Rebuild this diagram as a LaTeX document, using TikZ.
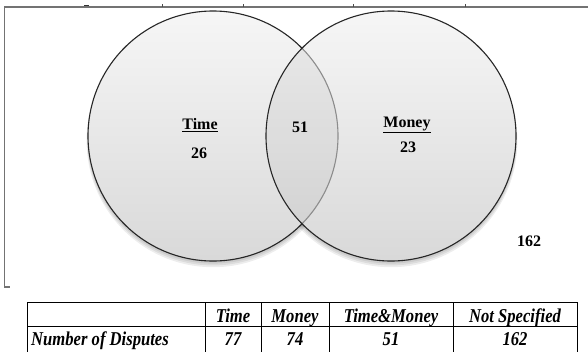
\documentclass[tikz,border=0pt]{standalone}
\usepackage{fontspec}
\setmainfont{Liberation Serif}
\usetikzlibrary{shadows.blur}
\begin{document}
\begin{tikzpicture}[x=1pt,y=-1pt,
  frame/.style={draw=black!55,line width=1.1pt},
  venn/.style={draw=black!85,line width=1.1pt},
  vshade/.style={top color=gray!7, bottom color=gray!30},
  vshadow/.style={fill=black, opacity=0.07},
  lbl/.style={font=\fontsize{16}{19}\selectfont\bfseries, inner sep=0pt},
  cell/.style={font=\fontsize{17.5}{20}\selectfont\bfseries\itshape, inner sep=0pt, anchor=base},
  tbl/.style={draw=black,line width=0.9pt}]
\useasboundingbox (0,0) rectangle (588,351);
\fill[white] (0,0) rectangle (588,351);
% frame
\coordinate (ftl) at (4.5,7);
\coordinate (ftr) at (588,7);
\coordinate (fbl) at (4.5,287);
\coordinate (fbr) at (10,287);
\draw[frame] (ftr) -- (ftl) -- (fbl) -- (fbr);
\foreach \t in {162,243,353,465}{\draw[black!70,line width=0.8pt] (\t,4) -- (\t,6.5);}
\draw[black!80,line width=1pt] (84,5.5) -- (89,5.5);
% circles
\coordinate (L) at (213,136);
\coordinate (R) at (391,136);
\foreach \s in {1,2,3,4}{
  \fill[vshadow] ($(L)+(0,\s*1.2)$) circle[radius=124+\s*0.6];
  \fill[vshadow] ($(R)+(0,\s*1.2)$) circle[radius=124+\s*0.6];
}
\path[vshade] (L) circle[radius=125];
\draw[venn] (L) circle[radius=125];
\path[vshade] (R) circle[radius=125];
\begin{scope}
  \clip (R) circle[radius=125];
  \fill[black, opacity=0.045] (L) circle[radius=125];
  \draw[venn, draw=black!45] (L) circle[radius=125];
\end{scope}
\draw[venn] (R) circle[radius=125];
% labels
\node[lbl] (time) at (200,125) {\underline{Time}};
\node[lbl] (n26) at (199,153) {26};
\node[lbl] (n51) at (300,127) {51};
\node[lbl] (money) at (407,125) {\underline{Money}};
\node[lbl] (n23) at (408,147) {23};
\node[lbl] (n162) at (529,241) {162};
% table
\coordinate (ttl) at (27,302.5);
\coordinate (tbr) at (577,360);
\draw[tbl] (ttl) rectangle (tbr);
\draw[tbl] (27,326.5) -- (577,326.5);
\foreach \c in {205,261.5,329,453}{\draw[tbl] (\c,302.5) -- (\c,360);}
\node[cell] (h1) at (233,322) {\scalebox{0.95}[1.12]{Time}};
\node[cell] (h2) at (295,322) {\scalebox{0.95}[1.12]{Money}};
\node[cell] (h3) at (391,322) {\scalebox{0.95}[1.12]{Time\&Money}};
\node[cell] (h4) at (515,322) {\scalebox{0.95}[1.12]{Not Specified}};
\node[cell, anchor=base west] (r0) at (31,345) {\scalebox{0.95}[1.12]{Number of Disputes}};
\node[cell] (v1) at (233,345) {\scalebox{0.95}[1.12]{77}};
\node[cell] (v2) at (295,345) {\scalebox{0.95}[1.12]{74}};
\node[cell] (v3) at (391,345) {\scalebox{0.95}[1.12]{51}};
\node[cell] (v4) at (515,345) {\scalebox{0.95}[1.12]{162}};
\end{tikzpicture}
\end{document}
